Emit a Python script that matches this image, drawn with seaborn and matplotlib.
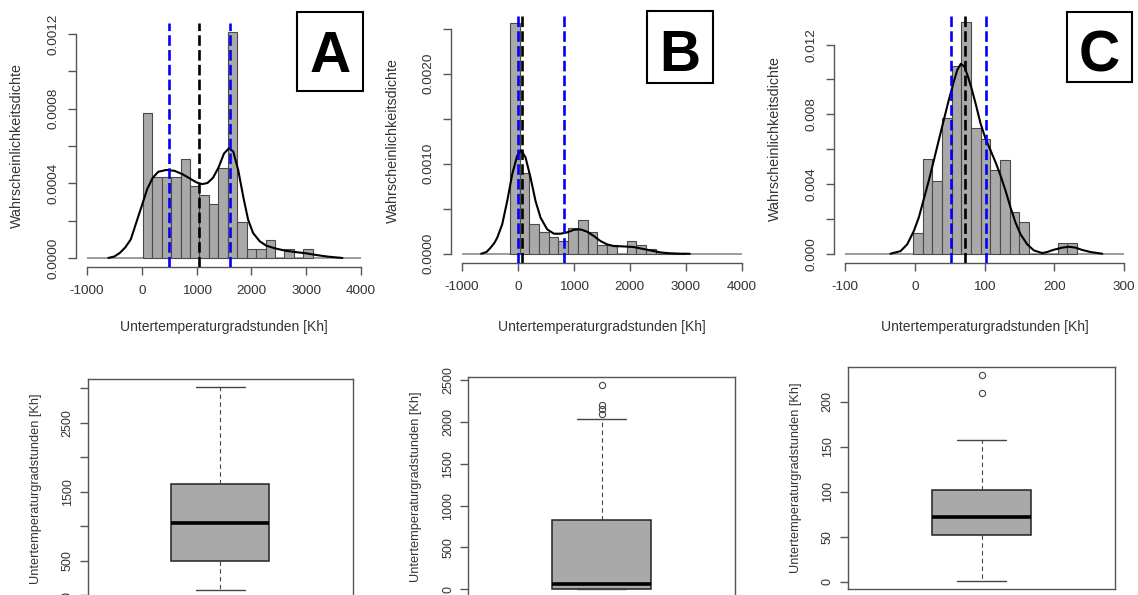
import numpy as np
import pandas as pd
import matplotlib
matplotlib.use("Agg")
import matplotlib.pyplot as plt
from matplotlib.patches import Rectangle
import seaborn as sns

# ------------------------------------------
# Daten
# ------------------------------------------
panel_names = ["A", "B", "C"]

# Histogramm-Klassengrenzen und Anzahlen
edges_a = [20, 192, 364, 537, 709, 881, 1053, 1225, 1398, 1570, 1742,
           1914, 2086, 2259, 2431, 2603, 2775, 2947, 3120]
counts_a = [16, 9, 9, 9, 11, 8, 7, 6, 10, 25, 4, 1, 1, 2, 0, 1, 0, 1]

edges_b = [-145, 29, 203, 377, 551, 725, 899, 1073, 1247, 1421, 1595,
           1769, 1943, 2117, 2291, 2465, 2639, 2813, 2987]
counts_b = [54, 19, 7, 5, 4, 3, 6, 8, 5, 2, 2, 0, 3, 2, 1, 0, 0, 0]

edges_c = [-2.8, 11.1, 24.9, 38.8, 52.7, 66.6, 80.4, 94.3, 108.2, 122.0,
           135.9, 149.8, 163.6, 177.5, 191.4, 205.3, 219.1, 233.0]
counts_c = [2, 9, 7, 13, 18, 22, 12, 11, 8, 9, 4, 3, 0, 0, 0, 1, 1]

# Dichtekurven (Punkte)
kde_x_a = [-610, -500, -400, -300, -200, -100, 0, 100, 200, 300, 450, 600,
           750, 900, 1000, 1100, 1200, 1300, 1400, 1500, 1590, 1670, 1760,
           1850, 1940, 2030, 2150, 2270, 2450, 2640, 2850, 3000, 3200, 3400,
           3660]
kde_y_a = [0.0, 0.000008, 0.000027, 0.000057, 0.0001, 0.00019, 0.00028,
           0.00037, 0.00043, 0.000462, 0.000472, 0.000467, 0.000448,
           0.000422, 0.000405, 0.000396, 0.000402, 0.00043, 0.000485,
           0.00056, 0.000588, 0.00057, 0.00047, 0.00033, 0.000205, 0.000134,
           0.00009, 0.000066, 0.00005, 0.000038, 0.00003, 0.000025, 0.000015,
           0.000007, 0.0]

kde_x_b = [-655, -560, -488, -420, -369, -280, -190, -101, -12, 59, 137, 226,
           315, 405, 524, 643, 762, 881, 1000, 1119, 1238, 1357, 1476, 1595,
           1714, 1893, 2071, 2250, 2429, 2548, 2700, 2900, 3070]
kde_y_b = [0.0, 0.00002, 0.000067, 0.00012, 0.000178, 0.000327, 0.000587,
           0.000884, 0.00109, 0.00115, 0.00107, 0.000847, 0.000587, 0.000401,
           0.000271, 0.000223, 0.000223, 0.000238, 0.000267, 0.000271,
           0.000245, 0.000197, 0.000141, 0.000104, 0.0000854, 0.0000817,
           0.0000743, 0.000052, 0.0000297, 0.0000149, 0.000006, 0.000001, 0.0]

kde_x_c = [-35, -20.5, -10.9, -1.4, 5.7, 12.9, 20.1, 27.3, 34.4, 41.6, 48.8,
           56, 61, 66, 71, 76, 81, 87.1, 94.3, 101.4, 108.6, 115.8, 123, 130.1,
           137.3, 144.5, 151.7, 161.3, 170.8, 182.8, 190, 199.5, 211.5, 221,
           230.6, 240, 252, 269]
kde_y_c = [0.0, 0.00015, 0.00054, 0.00131, 0.00208, 0.00314, 0.0042, 0.00536,
           0.00652, 0.00768, 0.00883, 0.00989, 0.01055, 0.0109, 0.01075,
           0.0102, 0.00955, 0.00864, 0.00748, 0.00661, 0.00594, 0.00526,
           0.00449, 0.00363, 0.00266, 0.00179, 0.00112, 0.00054, 0.00019,
           0.00004, 0.0001, 0.00023, 0.00035, 0.0004, 0.00035, 0.00022,
           0.0001, 0.0]

# Boxplot-Kennwerte: unterer Whisker, Q1, Median, Q3, oberer Whisker
box_a = [72, 497, 1047, 1612, 3023]
box_b = [0, 0, 65, 829, 2035]
box_c = [1.5, 52, 72.5, 101.5, 157]
fliers_a = []
fliers_b = [2100, 2155, 2207, 2441]
fliers_c = [209.5, 229.8]

xlabel = "Untertemperaturgradstunden [Kh]"
ylabel_hist = "Wahrscheinlichkeitsdichte"

# ------------------------------------------
# Stil
# ------------------------------------------
sns.set_style("ticks")
plt.rcParams["font.family"] = ["Liberation Sans", "DejaVu Sans"]

W, H = 1138, 595
fig = plt.figure(figsize=(W / 100, H / 100), dpi=100)

AX_COL = "#555555"
TXT_COL = "#333333"


def px_axes(l, t, r, b):
    return fig.add_axes([l / W, 1 - b / H, (r - l) / W, (b - t) / H])


def ftext(x, y, s, **kw):
    return fig.text(x / W, 1 - y / H, s, **kw)


def draw_hist(ax, edges, counts, kx, ky, quart, xlim, xt, yt, ylabs):
    e = np.array(edges, dtype=float)
    c = np.array(counts, dtype=float)
    df = pd.DataFrame({"mid": (e[:-1] + e[1:]) / 2, "n": c})
    ymax = (c / (c.sum() * np.diff(e))).max()

    ax.hlines(0, xt[0], xt[-1], color="#8a8a8a", lw=1.2, zorder=0.5)
    sns.histplot(data=df, x="mid", weights="n", bins=list(e), stat="density",
                 color="#a9a9a9", edgecolor="#4a4a4a", linewidth=0.8,
                 alpha=1, ax=ax)
    sns.lineplot(x=kx, y=ky, color="black", lw=1.5, sort=False,
                 estimator=None, ax=ax)
    for q, col in zip(quart, ["blue", "black", "blue"]):
        ax.axvline(q, color=col, lw=1.9, ls=(0, (4, 1.6)), zorder=4)

    ax.set_xlim(*xlim)
    ax.set_ylim(-0.04 * ymax, 1.04 * ymax)
    ax.set_xlabel("")
    ax.set_ylabel("")
    ax.set_xticks(xt)
    ax.set_xticklabels([str(v) for v in xt])
    ax.set_yticks(yt)
    ax.set_yticklabels(ylabs, rotation=90, va="center")
    for side in ["top", "right"]:
        ax.spines[side].set_visible(False)
    ax.spines["left"].set_bounds(yt[0], yt[-1])
    ax.spines["bottom"].set_bounds(xt[0], xt[-1])
    for side in ["left", "bottom"]:
        ax.spines[side].set_color(AX_COL)
        ax.spines[side].set_linewidth(1.0)
    ax.tick_params(length=5.5, width=1.0, color=AX_COL, labelsize=9.7,
                   labelcolor=TXT_COL)
    ax.tick_params(axis="y", pad=6.5)
    ax.tick_params(axis="x", pad=7.5)


def draw_box(ax, b, fl, yt, ylabs):
    stats = [dict(whislo=b[0], q1=b[1], med=b[2], q3=b[3], whishi=b[4],
                  fliers=fl)]
    ax.bxp(stats, positions=[1], widths=0.37, patch_artist=True,
           boxprops=dict(facecolor="#a9a9a9", edgecolor="#222222", lw=1.1),
           medianprops=dict(color="black", lw=2.6),
           whiskerprops=dict(color="#444444", lw=0.8, ls=(0, (4, 3))),
           capprops=dict(color="#444444", lw=1.0),
           flierprops=dict(marker="o", markerfacecolor="none",
                           markeredgecolor="#444444", markersize=4.5,
                           markeredgewidth=0.8))
    lo = min([b[0]] + fl)
    hi = max([b[4]] + fl)
    rng = hi - lo
    ax.set_ylim(lo - 0.04 * rng, hi + 0.04 * rng)
    ax.set_xlim(0.5, 1.5)
    ax.set_xticks([])
    ax.set_yticks(yt)
    ax.set_yticklabels(ylabs, rotation=90, va="center")
    for side in ax.spines:
        ax.spines[side].set_color(AX_COL)
        ax.spines[side].set_linewidth(1.0)
    ax.tick_params(axis="y", length=5.5, width=1.0, color=AX_COL,
                   labelsize=9, labelcolor=TXT_COL, pad=4.5)


# ------------------------------------------
# Obere Reihe: Histogramme mit Dichte
# ------------------------------------------
ax_a = px_axes(76, 23, 372, 267)
draw_hist(ax_a, edges_a, counts_a, kde_x_a, kde_y_a, box_a[1:4],
          (-1200, 4200), [-1000, 0, 1000, 2000, 3000, 4000],
          [0, 0.0002, 0.0004, 0.0006, 0.0008, 0.0010, 0.0012],
          ["0.0000", "", "0.0004", "", "0.0008", "", "0.0012"])

ax_b = px_axes(450.7, 13.7, 753, 263)
draw_hist(ax_b, edges_b, counts_b, kde_x_b, kde_y_b, box_b[1:4],
          (-1200, 4200), [-1000, 0, 1000, 2000, 3000, 4000],
          [0, 0.0005, 0.0010, 0.0015, 0.0020, 0.0025],
          ["0.0000", "", "0.0010", "", "0.0020", ""])

ax_c = px_axes(834, 13, 1135, 263)
draw_hist(ax_c, edges_c, counts_c, kde_x_c, kde_y_c, box_c[1:4],
          (-116, 316), [-100, 0, 100, 200, 300],
          [0, 0.002, 0.004, 0.006, 0.008, 0.010, 0.012],
          ["0.000", "", "0.004", "", "0.008", "", "0.012"])

for cx, cy in [(17, 145), (393.3, 140), (775, 138)]:
    ftext(cx, cy, ylabel_hist, rotation=90, ha="center", va="center",
          fontsize=10.3, color=TXT_COL)
for cx in [224, 601.5, 985]:
    ftext(cx, 331, xlabel, ha="center", va="baseline", fontsize=10,
          color=TXT_COL)

# Kennbuchstaben in Kästchen
label_boxes = [(297, 12, 363, 91, 72), (646.7, 11, 712.7, 82.7, 70.7),
               (1067, 11.7, 1132, 82.3, 71)]
for name, (l, t, r, b, base) in zip(panel_names, label_boxes):
    fig.add_artist(Rectangle((l / W, 1 - b / H), (r - l) / W, (b - t) / H,
                             transform=fig.transFigure, facecolor="white",
                             edgecolor="black", lw=1.5, zorder=5))
    ftext((l + r) / 2, base, name, ha="center", va="baseline",
          fontsize=41, fontweight="bold", color="black", zorder=6)

# ------------------------------------------
# Untere Reihe: Boxplots
# ------------------------------------------
bx_a = px_axes(87.7, 378.6, 353, 598.2)
draw_box(bx_a, box_a, fliers_a, [0, 500, 1000, 1500, 2000, 2500, 3000],
         ["0", "500", "", "1500", "", "2500", ""])

bx_b = px_axes(468.3, 377, 735, 597.4)
draw_box(bx_b, box_b, fliers_b, [0, 500, 1000, 1500, 2000, 2500],
         ["0", "500", "1000", "1500", "2000", "2500"])

bx_c = px_axes(847.7, 366.6, 1115.3, 588.8)
draw_box(bx_c, box_c, fliers_c, [0, 50, 100, 150, 200],
         ["0", "50", "100", "150", "200"])

for cx, cy in [(36, 488.5), (416.5, 487), (796, 477.6)]:
    ftext(cx, cy, xlabel, rotation=90, ha="center", va="center",
          fontsize=9.2, color=TXT_COL)

fig.savefig("out.png", dpi=100)
